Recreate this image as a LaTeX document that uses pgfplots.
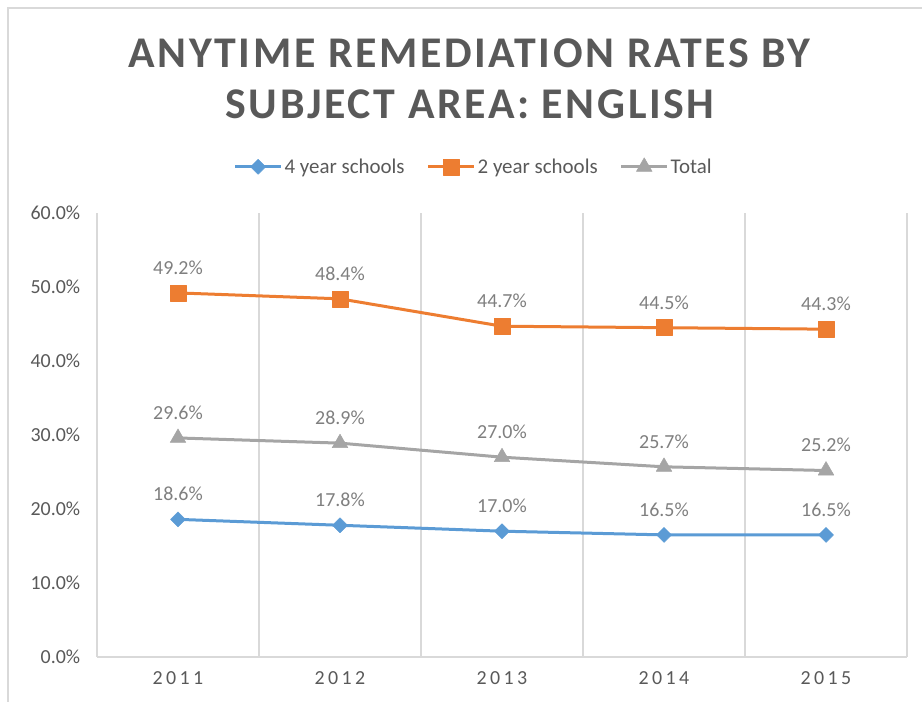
\documentclass[border=0pt]{standalone}
\usepackage{fontspec}
\setmainfont{Carlito}
\newfontfamily\titlefont[LetterSpace=6]{Carlito}
\newfontfamily\spacedfont[LetterSpace=17]{Carlito}
\usepackage{pgfplots}
\pgfplotsset{compat=1.18}
\definecolor{cblue}{HTML}{5B9BD5}
\definecolor{corange}{HTML}{ED7D31}
\definecolor{cgrey}{HTML}{A5A5A5}
\definecolor{txt}{HTML}{595959}
\definecolor{lbl}{HTML}{7F7F7F}
\definecolor{gridc}{HTML}{D9D9D9}
\begin{document}
\begin{tikzpicture}[x=1bp,y=1bp]
\useasboundingbox (0,0) rectangle (922,702);
\draw[gridc, line width=1.5bp] (8,0) -- (8,694) -- (922,694);
\node[anchor=base, text=txt, inner sep=0pt, font=\titlefont\bfseries\fontsize{44}{50}\selectfont] at (469,634) {ANYTIME REMEDIATION RATES BY};
\node[anchor=base, text=txt, inner sep=0pt, font=\titlefont\bfseries\fontsize{44}{50}\selectfont] at (470,583) {SUBJECT AREA: ENGLISH};
\begin{axis}[
  at={(97bp,45bp)}, anchor=south west,
  width=810bp, height=444bp, scale only axis,
  xmin=-0.5, xmax=4.5, ymin=0, ymax=60,
  /pgf/number format/assume math mode=true,
  xtick={0,1,2,3,4}, xticklabels={2011,2012,2013,2014,2015},
  minor xtick={-0.5,0.5,1.5,2.5,3.5,4.5},
  xminorgrids=true,
  minor grid style={gridc, line width=1.2bp},
  ytick={0,10,20,30,40,50,60},
  yticklabels={0.0\%,10.0\%,20.0\%,30.0\%,40.0\%,50.0\%,60.0\%},
  extra y ticks={0}, extra y tick labels={},
  extra y tick style={ymajorgrids=true, major grid style={gridc, line width=1.2bp}},
  major tick length=0pt, minor tick length=0pt,
  axis line style={draw=none},
  yticklabel style={font=\fontsize{20}{24}\selectfont, text=txt, xshift=-13.3bp},
  xticklabel style={font=\spacedfont\fontsize{20}{24}\selectfont, text=txt, yshift=-11.3bp},
  legend columns=3,
  legend style={draw=none, fill=none, at={(0.465,1.104)}, anchor=center,
    font=\fontsize{21}{24}\selectfont, text=txt,
    /tikz/every even column/.append style={column sep=20bp}},
  legend image code/.code={\draw[mark repeat=2,mark phase=2,#1,line width=3bp] plot coordinates {(0bp,0bp)(23bp,0bp)(46bp,0bp)};},
  nodes near coords={\pgfmathprintnumber[fixed,fixed zerofill,precision=1]{\pgfplotspointmeta}\%},
  every node near coord/.append style={font=\fontsize{20}{24}\selectfont, text=lbl, yshift=14.8bp},
]
\addplot[cblue, line width=3bp, line join=round, mark=square*, mark size=5.3bp, mark options={rotate=45, fill=cblue, draw=cblue, line width=0.5bp}]
  coordinates {(0,18.6) (1,17.8) (2,17.0) (3,16.5) (4,16.5)};
\addlegendentry{4 year schools}
\addplot[corange, line width=3bp, line join=round, mark=square*, mark size=8bp, mark options={fill=corange, draw=corange, line width=0.5bp}]
  coordinates {(0,49.2) (1,48.4) (2,44.7) (3,44.5) (4,44.3)};
\addlegendentry{2 year schools}
\addplot[cgrey, line width=3bp, line join=round, mark=triangle*, mark size=9bp, mark options={fill=cgrey, draw=cgrey, line width=0.5bp}]
  coordinates {(0,29.6) (1,28.9) (2,27.0) (3,25.7) (4,25.2)};
\addlegendentry{Total}
\end{axis}
\end{tikzpicture}
\end{document}
